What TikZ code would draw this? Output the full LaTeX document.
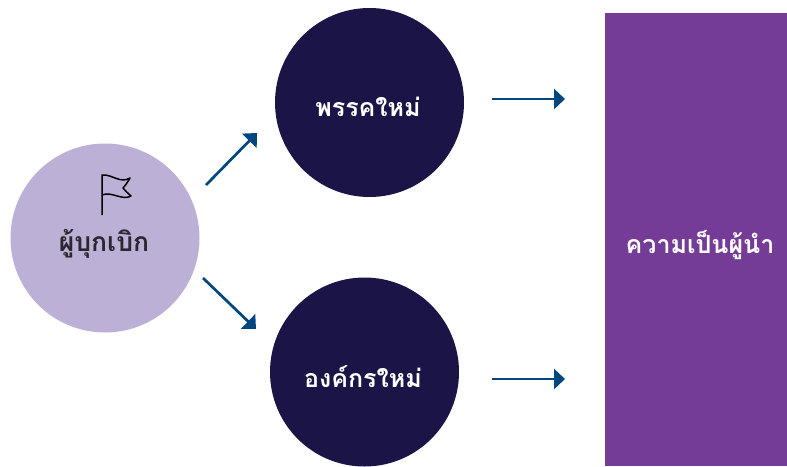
\documentclass[tikz,border=0pt]{standalone}
\usepackage{fontspec}
\newfontfamily\thaifont[Script=Thai]{Loma}
\usetikzlibrary{arrows.meta, positioning}
\definecolor{navyDark}{HTML}{1B1547}
\definecolor{lilacLight}{HTML}{BDB0D6}
\definecolor{inkDark}{HTML}{2B2730}
\definecolor{purpleMain}{HTML}{743C96}
\definecolor{blueLink}{HTML}{00467F}
\tikzset{
    darkNode/.style={circle, fill=navyDark, text=white, inner sep=0pt, minimum size=189pt, font=\thaifont\fontsize{25}{28}\selectfont\bfseries},
    startNode/.style={circle, fill=lilacLight, inner sep=0pt, minimum size=189pt},
    startText/.style={text=inkDark, inner sep=0pt, font=\thaifont\fontsize{26.5}{30}\selectfont\bfseries},
    goalBox/.style={rectangle, fill=purpleMain, text=white, inner sep=0pt, minimum width=182pt, minimum height=453pt, font=\thaifont\fontsize{25}{28}\selectfont\bfseries},
    linkEdge/.style={-{Triangle[length=11pt, width=20pt]}, draw=blueLink, fill=blueLink, line width=2.7pt},
}
\begin{document}
\begin{tikzpicture}[x=1pt, y=-1pt]
    \useasboundingbox (0,0) rectangle (787,466);

    \node[startNode] (P) at (105,238) {};
    \node[darkNode] (N) at (369.5,102.5) {};
    \node[darkNode] (O) at (364.5,372) {};
    \node[goalBox] (L) at (696,239.5) {};

    \node[startText] (Pt) at (104,244) {ผู้บุกเบิก};
    \node[darkNode, minimum size=0pt, fill=none] (Nt) at (368,107) {พรรคใหม่};
    \node[darkNode, minimum size=0pt, fill=none] (Ot) at (363,377) {องค์กรใหม่};
    \node[goalBox, minimum width=0pt, minimum height=0pt, fill=none] (Lt) at (700,245) {ความเป็นผู้นำ};

    % flag
    \draw[black, line width=1.5pt, line join=round] (102,215) -- (102,175)
        .. controls (112,174) and (120,184) .. (130,178)
        .. controls (127,183) and (125,186) .. (123,188)
        .. controls (125,191) and (128,193) .. (131,196)
        .. controls (122,201) and (112,191) .. (102,195);

    \coordinate (a1) at (206,185);
    \coordinate (a2) at (257,133);
    \coordinate (b1) at (203,278);
    \coordinate (b2) at (256,329);
    \coordinate (c1) at (492,99);
    \coordinate (c2) at (565,99);
    \coordinate (d1) at (492,379);
    \coordinate (d2) at (565,379);
    \draw[linkEdge] (a1) -- (a2);
    \draw[linkEdge] (b1) -- (b2);
    \draw[linkEdge] (c1) -- (c2);
    \draw[linkEdge] (d1) -- (d2);
\end{tikzpicture}
\end{document}
